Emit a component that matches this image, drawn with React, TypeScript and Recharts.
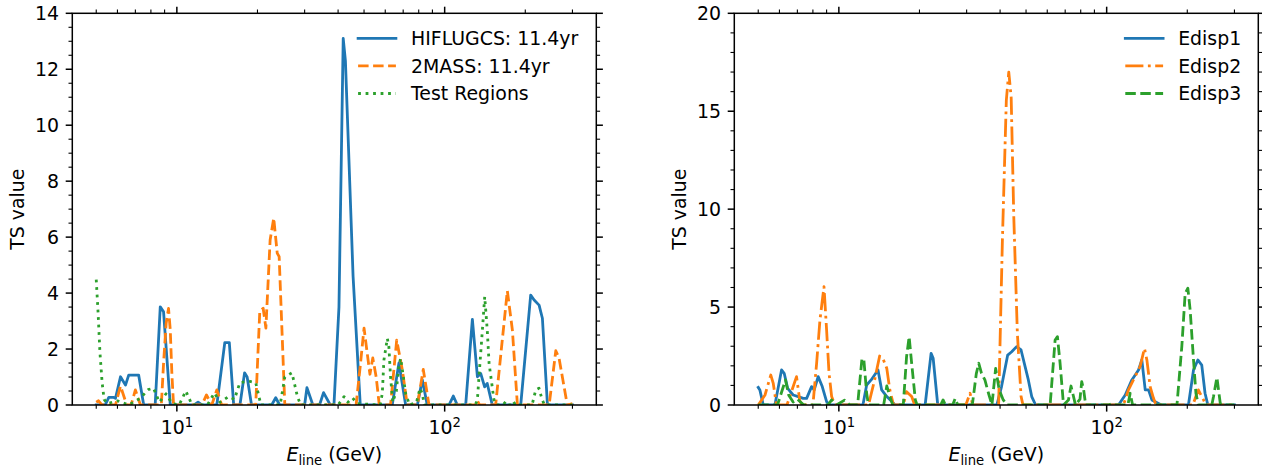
import React from 'react'
import { LineChart, Line, XAxis, YAxis } from 'recharts'

const W = 1262
const H = 467
const FONT = '"DejaVu Sans", sans-serif'
const FS = 18.9
const SUP = 13.2

const BLUE = '#1f77b4'
const ORANGE = '#ff7f0e'
const GREEN = '#2ca02c'

const DASHED = '10.5 4.5'
const DOTTED = '2.8 4.7'
const DASHDOT = '18.1 4.5 2.8 4.5'

const PLOT_TOP = 13.3
const PLOT_BOTTOM = 405
const AXIS_H = 30
const AXIS_W = 60

// x axis: log energy, same for both panels
const xDomain: [number, number] = [4.07, 368.3]
const xTicks = [5, 6, 7, 8, 9, 10, 20, 30, 40, 50, 60, 70, 80, 90, 100, 200, 300]
const xMajorExp: Record<number, string> = { 10: '1', 100: '2' }

const leftYTicks = Array.from({ length: 29 }, (_, i) => i * 0.5)
const leftYLabels = [0, 2, 4, 6, 8, 10, 12, 14]
const rightYTicks = Array.from({ length: 21 }, (_, i) => i)
const rightYLabels = [0, 5, 10, 15, 20]

// [E_line (GeV), TS]
const hiflugcs: [number, number][] = [
  [5.0, 0], [5.4, 0], [5.57, 0.27], [5.82, 0.27], [5.9, 0.24], [6.16, 1.01], [6.43, 0.71], [6.61, 1.07],
  [7.2, 1.07], [7.52, 0], [8.3, 0], [8.67, 3.51], [8.92, 3.33], [9.45, 0], [11.6, 0], [12.0, 0.1], [12.4, 0],
  [14.1, 0], [15.1, 2.23], [15.7, 2.23], [16.3, 0], [17.2, 0], [17.9, 1.15], [18.3, 1.0], [19.0, 0],
  [22.6, 0], [23.4, 0.26], [24.2, 0], [30.0, 0], [30.6, 0.62], [32.2, 0], [34.1, 0], [35.3, 0.44], [37.4, 0],
  [38.6, 0], [40.3, 3.5], [41.8, 13.1], [42.6, 12.3], [45.5, 4.6], [48.4, 0], [63.7, 0], [67.5, 1.5], [71.5, 0],
  [79.1, 0], [82.5, 0.9], [86.1, 0], [103.8, 0], [107.7, 0.32], [111.5, 0], [119.8, 0], [126.9, 3.06],
  [132.5, 1.01], [136.3, 1.13], [141, 0.65], [144.2, 0.77], [150.6, 0], [192.3, 0], [209.5, 3.93],
  [215.8, 3.75], [225.2, 3.57], [231.7, 3.1], [242, 0], [300, 0],
]

const twoMass: [number, number][] = [
  [5.0, 0.1], [5.1, 0.15], [5.25, 0], [5.9, 0], [6.16, 0.68], [6.5, 0], [6.75, 0], [7.0, 0.54], [7.31, 0],
  [8.75, 0], [8.92, 1.49], [9.12, 2.92], [9.31, 3.45], [9.45, 2.68], [9.58, 1.13], [9.72, 0], [12.4, 0],
  [12.9, 0.36], [13.5, 0], [14.1, 0.54], [14.7, 0], [19.7, 0], [20.4, 3.35], [21.0, 3.46], [21.5, 2.75],
  [22.3, 5.9], [23.0, 6.68], [23.7, 5.43], [24.1, 5.3], [25.3, 0], [46.7, 0], [48.4, 1.4], [50.0, 2.75],
  [51.3, 1.9], [52.6, 1.1], [53.9, 1.68], [55.5, 1.0], [57.0, 0], [62.8, 0], [66.2, 2.32], [69.5, 1.25],
  [72.5, 0], [79.1, 0], [83.2, 1.27], [87.4, 0], [130, 0], [132.5, 0.15], [135, 0], [155, 0], [171.4, 4.08],
  [179, 2.68], [186.9, 0], [245.6, 0], [260, 1.94], [267.4, 1.67], [287, 0], [300, 0.05],
]

const testRegions: [number, number][] = [
  [5.0, 4.48], [5.08, 3.3], [5.16, 1.9], [5.26, 0.8], [5.35, 0.2], [5.5, 0.05], [6.0, 0.15], [6.6, 0],
  [7.3, 0.24], [7.81, 0.55], [8.18, 0.6], [8.6, 0.1], [9.11, 0.4], [9.6, 0.05], [10.2, 0], [10.8, 0.5],
  [11.4, 0], [13.0, 0], [13.8, 0.43], [14.5, 0.1], [15.6, 0.3], [16.4, 0.2], [17.2, 0.8], [18.6, 0.85],
  [19.7, 0.8], [20.6, 0], [24.3, 0], [25.3, 1.0], [26.9, 1.15], [28.2, 0.3], [29, 0], [40, 0], [42.1, 0.3],
  [43.5, 0.1], [45.3, 0.25], [47.2, 0.05], [57.5, 0], [58.5, 0.42], [59.3, 1.6], [61.1, 2.38], [61.9, 2.08],
  [62.8, 1.0], [64, 0.1], [66, 0.5], [67.5, 1.43], [68.5, 1.67], [70.1, 1.01], [71.5, 0.4], [74, 0],
  [78.5, 0.1], [80.9, 0.6], [82.5, 0.4], [84, 0], [130, 0], [132.5, 0.18], [134.3, 1.0], [138.3, 2.68],
  [141.1, 3.87], [144.2, 2.68], [146.5, 1.49], [149.3, 0.9], [152.8, 0.18], [156, 0], [165, 0], [169, 0.12],
  [173, 0], [178, 0], [180.5, 0.12], [184, 0], [212, 0], [218.8, 0.54], [225, 0.6], [231, 0.2], [236, 0], [300, 0],
]

const edisp1: [number, number][] = [
  [5.0, 0.9], [5.07, 0.77], [5.22, 0], [5.77, 0], [6.11, 1.79], [6.25, 1.62], [6.44, 0.85], [6.75, 0.51],
  [7.05, 0.43], [7.36, 0.34], [7.58, 0.34], [7.91, 0.94], [8.09, 0.77], [8.37, 1.45], [8.67, 0.94], [9.0, 0.17],
  [9.27, 0], [12.3, 0], [12.7, 1.02], [13.2, 1.28], [14.0, 1.79], [14.45, 0.77], [15.1, 0.43], [15.8, 0.17],
  [16.2, 0], [21.0, 0], [22.1, 2.64], [22.5, 2.38], [23.4, 0], [38.9, 0], [40.5, 0.94], [42.7, 2.55],
  [44.2, 2.72], [46.1, 2.98], [47.9, 2.81], [49.6, 1.96], [51.0, 1.28], [52.5, 0.43], [54.3, 0], [110.7, 0],
  [117.3, 0.51], [124.2, 1.28], [131.5, 1.79], [135.3, 2.3], [139.3, 0.77], [143.3, 0.77], [147.5, 0.26],
  [156.2, 0.08], [160, 0], [202, 0], [211, 1.79], [219, 2.3], [226.5, 2.04], [233, 0.6], [238.7, 0], [300, 0],
]

const edisp2: [number, number][] = [
  [5.0, 0], [5.3, 0.51], [5.57, 1.53], [5.69, 1.1], [5.85, 0], [6.4, 0], [6.95, 1.45], [7.15, 0.2], [7.3, 0],
  [8.0, 0], [8.26, 2.13], [8.5, 4.34], [8.8, 6.04], [9.0, 3.83], [9.19, 1.62], [9.4, 0.43], [9.67, 0],
  [12.9, 0], [13.6, 1.28], [14.2, 2.5], [14.6, 2.38], [15.1, 1.87], [15.5, 0.77], [16.0, 0], [17.4, 0],
  [17.9, 0.68], [18.7, 0.43], [19.2, 0], [29.8, 0], [30.9, 0.6], [31.6, 0], [39.5, 0], [40.8, 8.4],
  [42.2, 15.55], [43.1, 17.0], [44.0, 15.7], [45.0, 9.6], [46.4, 3.67], [47.9, 0.44], [48.7, 0], [115.5, 0],
  [120.6, 0.77], [127.7, 1.45], [133.3, 1.96], [138.4, 2.89], [141.3, 2.3], [145.3, 0.94], [149.6, 0.34],
  [153, 0], [210, 0], [214, 0.34], [220, 0.77], [230, 0.26], [235, 0], [300, 0],
]

const edisp3: [number, number][] = [
  [5.0, 0], [5.9, 0], [6.32, 1.28], [6.5, 0.5], [6.75, 0.15], [7.0, 0.3], [7.4, 0], [9.1, 0], [9.4, 0.26],
  [9.8, 0], [10.5, 0.25], [11.0, 0], [11.75, 0], [12.2, 2.38], [12.4, 2.3], [12.7, 0.6], [12.9, 0], [14.7, 0],
  [15.1, 0.97], [15.5, 0.43], [15.9, 0], [17.4, 0], [17.9, 2.47], [18.3, 3.49], [18.7, 2.13], [19.3, 0.26],
  [19.6, 0], [24.0, 0], [24.5, 0.26], [25.0, 0], [26.6, 0], [27.2, 0.34], [27.8, 0], [31.5, 0], [32.6, 1.6],
  [33.3, 2.13], [34.1, 1.62], [35.1, 1.28], [36.2, 0.6], [37.3, 0], [38.5, 1.87], [39.7, 0.77], [41.1, 0.26],
  [42.5, 0], [61.5, 0], [64.2, 3.32], [65.5, 3.49], [67.0, 2.13], [69.0, 0], [72, 0.26], [73.6, 0.97], [75, 0.5],
  [76.5, 0], [79.5, 0.3], [80.7, 1.19], [82, 0.8], [83.5, 0], [102, 0], [104.5, 0.08], [107, 0], [120, 0],
  [122.4, 0.6], [125, 0], [183, 0], [190.8, 2.98], [196.4, 5.7], [201, 5.96], [205, 4.85], [211, 2.3],
  [215.4, 0.6], [220, 0], [247, 0], [250.6, 0.43], [258, 1.41], [265.6, 0.08], [270, 0], [300, 0],
]

type Series = { name: string; data: [number, number][]; color: string; dash?: string }

const leftSeries: Series[] = [
  { name: 'HIFLUGCS: 11.4yr', data: hiflugcs, color: BLUE },
  { name: '2MASS: 11.4yr', data: twoMass, color: ORANGE, dash: DASHED },
  { name: 'Test Regions', data: testRegions, color: GREEN, dash: DOTTED },
]

const rightSeries: Series[] = [
  { name: 'Edisp1', data: edisp1, color: BLUE },
  { name: 'Edisp2', data: edisp2, color: ORANGE, dash: DASHDOT },
  { name: 'Edisp3', data: edisp3, color: GREEN, dash: DASHED },
]

const panels = [
  { plotLeft: 72.3, plotRight: 596.3, yMax: 14, yTicks: leftYTicks, yLabels: leftYLabels, series: leftSeries, legendText: 411 },
  { plotLeft: 734.3, plotRight: 1258.3, yMax: 20, yTicks: rightYTicks, yLabels: rightYLabels, series: rightSeries, legendText: 1178.2 },
]

function XTick(props: any) {
  const { x, payload } = props
  const exp = xMajorExp[payload.value]
  const len = exp ? 6.6 : 3.8
  const sw = exp ? 1.5 : 1.1
  return (
    <g>
      <line x1={x} x2={x} y1={PLOT_BOTTOM} y2={PLOT_BOTTOM + len} stroke="#000" strokeWidth={sw} />
      <line x1={x} x2={x} y1={PLOT_TOP} y2={PLOT_TOP - len} stroke="#000" strokeWidth={sw} />
      {exp ? (
        <text x={x} y={434} textAnchor="middle" fontFamily={FONT} fontSize={FS} fill="#000">
          10<tspan dy={-7.3} fontSize={SUP}>{exp}</tspan>
        </text>
      ) : null}
    </g>
  )
}

function YTick(props: any) {
  const { y, payload, plotLeft, plotRight, labels } = props
  const major = labels.includes(payload.value)
  const len = major ? 6.6 : 3.8
  const sw = major ? 1.5 : 1.1
  return (
    <g>
      <line x1={plotLeft} x2={plotLeft - len} y1={y} y2={y} stroke="#000" strokeWidth={sw} />
      <line x1={plotRight} x2={plotRight + len} y1={y} y2={y} stroke="#000" strokeWidth={sw} />
      {major ? (
        <text x={plotLeft - 13.2} y={y + 6.8} textAnchor="end" fontFamily={FONT} fontSize={FS} fill="#000">
          {payload.value}
        </text>
      ) : null}
    </g>
  )
}

function Panel({ p }: { p: (typeof panels)[number] }) {
  return (
    <div style={{ position: 'absolute', left: 0, top: 0 }}>
      <LineChart
        width={W}
        height={H}
        margin={{
          top: PLOT_TOP,
          bottom: H - PLOT_BOTTOM - AXIS_H,
          left: p.plotLeft - AXIS_W,
          right: W - p.plotRight,
        }}
      >
        <XAxis
          type="number"
          dataKey="e"
          scale="log"
          domain={xDomain}
          allowDataOverflow
          ticks={xTicks}
          interval={0}
          height={AXIS_H}
          axisLine={false}
          tickLine={false}
          tick={(t: any) => <XTick {...t} />}
        />
        <YAxis
          type="number"
          domain={[0, p.yMax]}
          allowDataOverflow
          ticks={p.yTicks}
          interval={0}
          width={AXIS_W}
          axisLine={false}
          tickLine={false}
          tick={(t: any) => <YTick {...t} plotLeft={p.plotLeft} plotRight={p.plotRight} labels={p.yLabels} />}
        />
        {p.series.map((s) => (
          <Line
            key={s.name}
            name={s.name}
            data={s.data.map(([e, ts]) => ({ e, ts }))}
            dataKey="ts"
            type="linear"
            stroke={s.color}
            strokeWidth={2.8}
            strokeDasharray={s.dash}
            strokeLinejoin="round"
            strokeLinecap={s.dash ? 'butt' : 'square'}
            dot={false}
            activeDot={false}
            isAnimationActive={false}
          />
        ))}
      </LineChart>
    </div>
  )
}

function Overlay() {
  const midY = (PLOT_TOP + PLOT_BOTTOM) / 2
  return (
    <svg width={W} height={H} style={{ position: 'absolute', left: 0, top: 0, pointerEvents: 'none' }}>
      {panels.map((p, i) => {
        const cx = (p.plotLeft + p.plotRight) / 2
        const yl = p.plotLeft - 48.3
        return (
          <g key={i} fontFamily={FONT} fill="#000">
            <rect
              x={p.plotLeft}
              y={PLOT_TOP}
              width={p.plotRight - p.plotLeft}
              height={PLOT_BOTTOM - PLOT_TOP}
              fill="none"
              stroke="#000"
              strokeWidth={1.5}
            />
            <text x={yl} y={midY} fontSize={FS} textAnchor="middle" transform={`rotate(-90 ${yl} ${midY})`}>
              TS value
            </text>
            <text x={cx} y={461} fontSize={FS} textAnchor="middle">
              <tspan fontStyle="italic">E</tspan>
              <tspan fontSize={SUP} dy={3.5}>line</tspan>
              <tspan dy={-3.5}>{' (GeV)'}</tspan>
            </text>
            {p.series.map((s, j) => {
              const cy = 38.3 + j * 27.6
              const x2 = p.legendText - 15.1
              const x1 = x2 - 37.8
              return (
                <g key={s.name}>
                  <line
                    x1={x1}
                    x2={x2}
                    y1={cy}
                    y2={cy}
                    stroke={s.color}
                    strokeWidth={2.8}
                    strokeDasharray={s.dash}
                    strokeLinecap={s.dash ? 'butt' : 'square'}
                  />
                  <text x={p.legendText} y={cy + 6.6} fontSize={FS}>
                    {s.name}
                  </text>
                </g>
              )
            })}
          </g>
        )
      })}
    </svg>
  )
}

export default function App() {
  return (
    <div style={{ position: 'absolute', left: 0, top: 0, width: W, height: H, background: '#fff' }}>
      {panels.map((p, i) => (
        <Panel key={i} p={p} />
      ))}
      <Overlay />
    </div>
  )
}
